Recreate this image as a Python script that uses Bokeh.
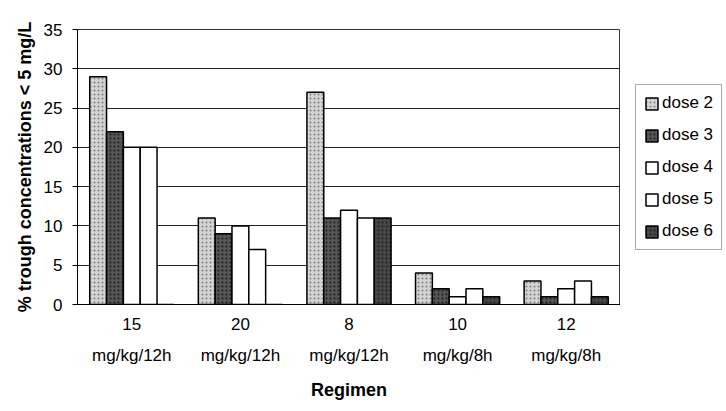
from bokeh.plotting import figure
from bokeh.layouts import row
from bokeh.models import FactorRange, Legend, LegendItem, ColumnDataSource, SingleIntervalTicker
from bokeh.transform import dodge
from bokeh.embed import file_html
from bokeh.resources import INLINE

regimens = ["15\nmg/kg/12h", "20\nmg/kg/12h", "8\nmg/kg/12h", "10\nmg/kg/8h", "12\nmg/kg/8h"]
dose2 = [29, 11, 27, 4, 3]
dose3 = [22, 9, 11, 2, 1]
dose4 = [20, 10, 12, 1, 2]
dose5 = [20, 7, 11, 2, 3]
dose6 = [0, 0, 11, 1, 1]
series_names = ["dose 2", "dose 3", "dose 4", "dose 5", "dose 6"]

src = ColumnDataSource(dict(reg=regimens, d2=dose2, d3=dose3, d4=dose4, d5=dose5, d6=dose6))

p = figure(width=620, height=411, x_range=FactorRange(*regimens), y_range=(0, 35),
           output_backend="svg", toolbar_location=None,
           min_border_left=77, min_border_right=0, min_border_top=29, min_border_bottom=107)

# separate small figure to the right that only holds the legend
lf = figure(width=106, height=411, x_range=(0, 1), y_range=(0, 1),
            x_axis_type=None, y_axis_type=None, output_backend="svg", toolbar_location=None,
            min_border_left=0, min_border_top=29, min_border_right=0, min_border_bottom=107,
            outline_line_color=None)
lf.grid.grid_line_color = None

w = 0.155
fills = ["#d4d4d4", "#555555", "#ffffff", "#ffffff", "#474747"]
hatches = ["dot", "dot", None, None, "dot"]
hcolors = ["#808080", "#1e1e1e", None, None, "#1e1e1e"]
cols = ["d2", "d3", "d4", "d5", "d6"]
items = []
for i, (c, f, h, hc, name) in enumerate(zip(cols, fills, hatches, hcolors, series_names)):
    kw = dict(fill_color=f, line_color="black", line_width=1.5)
    if h:
        kw.update(hatch_pattern=h, hatch_color=hc, hatch_scale=4, hatch_weight=1)
    p.vbar(x=dodge("reg", (i - 2) * w, range=p.x_range), top=c, width=w, source=src, **kw)
    # legend-only renderer; a tiny bar hidden behind the legend box
    r = lf.vbar(x=[0.5], bottom=[0.45], top=[0.55], width=0.1, **kw)
    items.append(LegendItem(label=name, renderers=[r]))

legend = Legend(items=items, location=(15, 54), label_text_font="Liberation Sans",
                label_text_font_size="17px", label_text_color="black",
                glyph_width=15, glyph_height=15,
                spacing=12, padding=8, margin=0, border_line_color="#555555",
                background_fill_color="white", background_fill_alpha=1.0, label_standoff=3)
lf.add_layout(legend, "center")

p.yaxis.ticker = SingleIntervalTicker(interval=5)
p.xgrid.grid_line_color = None
p.ygrid.grid_line_color = "#222222"
p.ygrid.grid_line_width = 1
p.outline_line_color = "#333333"
p.background_fill_color = "white"

for ax in (p.xaxis[0], p.yaxis[0]):
    ax.major_label_text_font = "Liberation Sans"
    ax.major_label_text_font_size = "17px"
    ax.major_label_text_color = "black"
    ax.axis_label_text_font = "Liberation Sans"
    ax.axis_label_text_font_style = "bold"
    ax.axis_label_text_font_size = "18px"
    ax.axis_label_text_color = "black"
    ax.axis_line_color = "black"
    ax.major_tick_line_color = "black"
    ax.minor_tick_line_color = None

p.yaxis.axis_label = "% trough concentrations < 5 mg/L"
p.xaxis.axis_label = "Regimen"
p.xaxis.major_tick_line_color = None
p.xaxis.major_label_text_line_height = 1.65
p.xaxis.major_label_standoff = 4
p.xaxis.axis_label_standoff = 12
p.yaxis.major_tick_out = 5
p.yaxis.major_tick_in = 0
p.yaxis.major_label_standoff = 10
p.yaxis.axis_label_standoff = 6

layout = row(p, lf)
open("out.html", "w").write(file_html(layout, INLINE))
